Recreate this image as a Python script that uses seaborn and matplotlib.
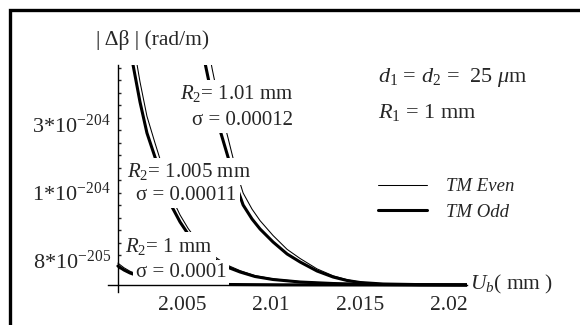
import numpy as np
import seaborn as sns
import matplotlib.pyplot as plt
from matplotlib.patches import Rectangle

# ---- data (x = U_b in mm, y = |dbeta| in axis tick units)
x_r1 = [2.00140, 2.00174, 2.00208, 2.00264, 2.00320, 2.00404, 2.00489, 2.00601, 2.00770, 2.01051, 2.02101]
odd_r1 = [1.52, 1.20, 0.96, 0.68, 0.48, 0.28, 0.16, 0.08, 0.04, 0.016, 0.004]
even_r1 = [1.75, 1.38, 1.10, 0.78, 0.55, 0.32, 0.18, 0.09, 0.046, 0.018, 0.005]

x_r1005 = [2.00180, 2.00225, 2.00264, 2.00303, 2.00348, 2.00393, 2.00444, 2.00489, 2.00534, 2.00584, 2.00640,
           2.00697, 2.00753, 2.00826, 2.00910, 2.01011, 2.01163, 2.01348, 2.01556, 2.01837, 2.02101]
odd_r1005 = [21.76, 17.6, 14.64, 12.16, 10.24, 8.4, 6.24, 5.04, 4.08, 3.2, 2.48,
             1.92, 1.44, 1.04, 0.68, 0.44, 0.24, 0.12, 0.048, 0.016, 0.008]
even_r1005 = [24.2, 19.5, 16.25, 13.5, 11.37, 9.32, 6.93, 5.6, 4.53, 3.55, 2.75,
              2.13, 1.6, 1.15, 0.75, 0.49, 0.27, 0.13, 0.053, 0.018, 0.009]

x_r101 = [2.00590, 2.00629, 2.00669, 2.00713, 2.00758, 2.00803, 2.00843, 2.00893, 2.00938, 2.01011,
          2.01090, 2.01163, 2.01258, 2.01348, 2.01427, 2.01500, 2.01629, 2.01837, 2.02101]
odd_r101 = [20.96, 17.76, 15.04, 12.4, 10.24, 8.0, 6.4, 5.28, 4.48, 3.44,
            2.48, 1.84, 1.12, 0.64, 0.36, 0.2, 0.08, 0.032, 0.012]
even_r101 = [24.1, 20.4, 17.3, 14.26, 11.78, 9.2, 7.36, 6.07, 5.15, 3.96,
             2.85, 2.12, 1.29, 0.74, 0.42, 0.23, 0.09, 0.037, 0.014]

xtick_values = [2.005, 2.01, 2.015, 2.02]
xtick_labels = ["2.005", "2.01", "2.015", "2.02"]
ytick_values = [2.0, 7.5, 12.9]
ytick_labels = ["8*10$^{-205}$", "1*10$^{-204}$", "3*10$^{-204}$"]

# ---- style
sns.set_style("white")
plt.rcParams['font.family'] = ['Liberation Serif', 'DejaVu Serif']
plt.rcParams['mathtext.fontset'] = 'custom'
plt.rcParams['mathtext.rm'] = 'Liberation Serif'
plt.rcParams['mathtext.it'] = 'Liberation Serif:italic'
fs = 14.5
thin, thick = 0.75, 2.2

fig = plt.figure(figsize=(5.8, 3.25), dpi=100)
ax = fig.add_axes([0.1862, 0.1015, 0.619, 0.6985])

# outer frame (only top and left edges are visible in the crop)
fig.add_artist(Rectangle((10 / 580, -0.2), 1.2, 1.2 - 10 / 325, transform=fig.transFigure,
                         fill=False, ec='black', lw=2.4, clip_on=False))

# curves
for xs, odd, even in [(x_r1, odd_r1, even_r1), (x_r1005, odd_r1005, even_r1005), (x_r101, odd_r101, even_r101)]:
    sns.lineplot(x=xs, y=odd, ax=ax, color='black', lw=thick, sort=False, estimator=None, zorder=2)
    sns.lineplot(x=xs, y=even, ax=ax, color='black', lw=thin, sort=False, estimator=None, zorder=2)

ax.set_xlim(2.000843, 2.0210)
ax.set_ylim(-0.56, 17.6)

# axes through the origin, Mathematica style
for s in ['top', 'right']:
    ax.spines[s].set_visible(False)
ax.spines['left'].set_position(('data', 2.0014))
ax.spines['bottom'].set_position(('data', 0))
for s in ['left', 'bottom']:
    ax.spines[s].set_linewidth(1.0)
    ax.spines[s].set_color('black')
    ax.spines[s].set_zorder(5)

ax.set_xticks(xtick_values)
ax.set_xticklabels(xtick_labels)
ax.set_yticks(ytick_values)
ax.set_yticklabels(ytick_labels)
ax.set_yticks(np.arange(1.4, 17.5, 1.0), minor=True)
ax.tick_params(axis='x', length=0, pad=8, labelsize=15.5)
ax.tick_params(axis='y', which='major', direction='in', length=3.5, width=1, pad=5, labelsize=16)
ax.tick_params(axis='y', which='minor', direction='in', length=2.5, width=1, left=True)
ax.set_xlabel('')
ax.set_ylabel('')

# axis titles
ax.text(0.125, 1.11, "| Δβ | (rad/m)", transform=ax.transAxes, ha='center', va='center', fontsize=15.5)
ax.text(1.008, 0.031, r"$U_b$( mm )", transform=ax.transAxes, ha='left', va='center', fontsize=15.5)

# curve labels with white boxes covering the lines
box = dict(boxstyle='square,pad=0.15', fc='white', ec='none')
labels = [
    (2.00809, 15.32, r"$R_2$= 1.01 mm"),
    (2.00837, 13.2, "σ = 0.00012"),
    (2.00537, 9.08, r"$R_2$= 1.005 mm"),
    (2.00525, 7.16, "σ = 0.00011"),
    (2.00427, 3.12, r"$R_2$= 1 mm"),
    (2.00494, 1.0, "σ = 0.0001"),
]
for lx, ly, txt in labels:
    ax.text(lx, ly, txt, ha='center', va='center', fontsize=15, bbox=box, zorder=3)

# parameter text
ax.text(0.752, 0.925, r"$d_1$ = $d_2$ =  25 $\mu$m", transform=ax.transAxes, ha='left', va='baseline', fontsize=16)
ax.text(0.752, 0.767, r"$R_1$ = 1 mm", transform=ax.transAxes, ha='left', va='baseline', fontsize=16)

# legend
h = ax.get_lines()
leg = ax.legend([h[1], h[0]], ["TM Even", "TM Odd"], loc='upper left', bbox_to_anchor=(0.752, 0.502),
                frameon=False, borderpad=0, borderaxespad=0, handlelength=2.6, handletextpad=1.05,
                labelspacing=0.45, prop={'style': 'italic', 'size': 13.5})

fig.savefig("out.png", dpi=100, facecolor='white')
